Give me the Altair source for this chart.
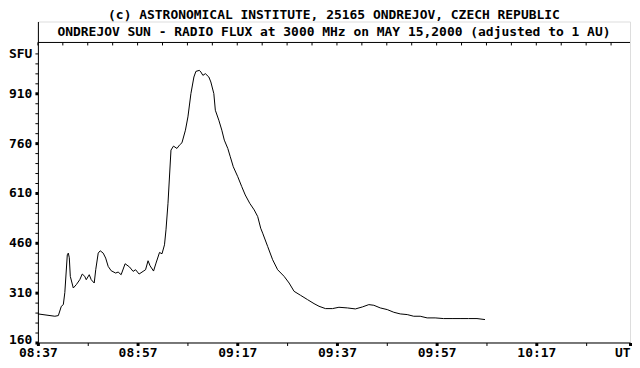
import json
import altair as alt
import pandas as pd

# --- data (minutes after 08:37 UT, flux in SFU) ---
minutes = [0.0, 3.4, 4.1, 4.7, 5.1, 5.4, 5.9, 6.1, 6.3, 6.5, 7.1, 7.7, 8.4, 8.9, 9.4, 9.7,
           10.3, 10.7, 11.3, 11.6, 12.1, 12.5, 13.1, 13.6, 14.1, 14.7, 15.6, 16.1, 16.7,
           17.5, 18.4, 19.1, 19.6, 20.3, 21.1, 21.6, 22.1, 22.5, 23.2, 23.7, 24.4, 24.9,
           25.4, 25.7, 26.1, 26.7, 27.2, 27.9, 28.4, 28.9, 29.6, 30.1, 30.7, 31.3, 31.7,
           32.4, 32.7, 33.1, 33.6, 34.3, 34.7, 35.3, 35.6, 36.3, 36.9, 37.4, 38.1, 38.6,
           39.2, 40.1, 40.9, 41.6, 42.5, 43.4, 44.1, 44.7, 45.1, 46.1, 47.1, 48.1, 49.4,
           50.4, 51.4, 52.7, 54.1, 55.4, 56.4, 57.7, 59.1, 60.4, 62.1, 63.7, 65.1, 66.4,
           67.4, 68.7, 70.1, 71.4, 72.7, 74.1, 75.4, 76.7, 78.1, 79.7, 81.4, 83.1, 84.7,
           86.4, 88.1, 89.7]
flux = [246, 239, 241, 269, 274, 310, 424, 429, 415, 359, 324, 334, 349, 366, 359, 349,
        364, 349, 339, 379, 429, 436, 429, 414, 389, 376, 369, 372, 364,
        397, 387, 374, 379, 366, 374, 379, 406, 391, 375, 399, 431, 427,
        454, 499, 579, 739, 751, 744, 754, 761, 799, 839, 909, 959, 976,
        979, 974, 964, 969, 959, 944, 909, 859, 829, 799, 769, 744, 719,
        689, 659, 629, 604, 579, 559, 539, 504, 489, 449, 409, 379, 359,
        339, 314, 302, 289, 277, 269, 262, 262, 266, 264, 261, 267, 274,
        272, 264, 259, 251, 246, 244, 239, 239, 234, 234, 232, 232, 232,
        232, 232, 229]

X_END = 118.8  # right edge of the frame (the page is a few pixels narrower than the original)
x_label_values = [0, 20, 40, 60, 80, 100, X_END]
x_labels = ["08:37", "08:57", "09:17", "09:37", "09:57", "10:17", "UT"]
x_tick_values = [0, 5, 10, 15, 20, 25, 30, 35, 40, 45, 50, 55, 60, 65, 70, 75, 80,
                 85, 90, 95, 100, 105, 110, 115, X_END]
top_tick_values = [0, 5, 10, 15, 20, 25, 30, 35, 40, 45, 50, 55, 60, 65, 70, 75, 80,
                   85, 90, 95, 100, 105, 110, 115]

y_label_values = [160, 310, 460, 610, 760, 910, 1030]
y_labels = ["160", "310", "460", "610", "760", "910", "SFU"]
y_major_values = [160, 310, 460, 610, 760, 910]
y_tick_values = [160, 190, 220, 250, 280, 310, 340, 370, 400, 430, 460, 490, 520, 550,
                 580, 610, 640, 670, 700, 730, 760, 790, 820, 850, 880, 910, 940, 970,
                 1000, 1030]

title_text = "(c) ASTRONOMICAL INSTITUTE, 25165 ONDREJOV, CZECH REPUBLIC"
subtitle_text = "ONDREJOV SUN - RADIO FLUX at 3000 MHz on MAY 15,2000 (adjusted to 1 AU)"

FONT = "DejaVu Sans Mono"
FS = 13

W = 594
H = 322
BOX = 21

df = pd.DataFrame({"m": minutes, "sfu": flux})
ticks_df = pd.DataFrame({"m": top_tick_values})
sub_df = pd.DataFrame({"t": [subtitle_text]})

xv = json.dumps(x_label_values)
xl = json.dumps(x_labels).replace('"', "'")
yv = json.dumps(y_label_values)
yl = json.dumps(y_labels).replace('"', "'")
ymaj = json.dumps(y_major_values)

x_scale = alt.Scale(domain=[0, X_END], nice=False, zero=False)
y_scale = alt.Scale(domain=[160, 160 + 3 * H], nice=False, zero=False)

x_axis = alt.Axis(
    values=x_tick_values,
    labelExpr=f"indexof({xv}, datum.value) >= 0 ? {xl}[indexof({xv}, datum.value)] : ''",
    labelFont=FONT, labelFontSize=FS, labelFontWeight="bold", labelColor="black",
    labelAlign={"condition": {"test": f"datum.value == {X_END}", "value": "right"}, "value": "center"},
    labelPadding=1, labelFlush=False, labelOverlap=False,
    tickSize=3,
    tickWidth={"condition": {"test": f"indexof({xv}, datum.value) >= 0", "value": 3}, "value": 1},
    tickColor="black", domainColor="black", domainWidth=1, grid=False, title=None,
)
y_axis = alt.Axis(
    values=y_tick_values,
    labelExpr=f"indexof({yv}, datum.value) >= 0 ? {yl}[indexof({yv}, datum.value)] : ''",
    labelFont=FONT, labelFontSize=FS, labelFontWeight="bold", labelColor="black",
    labelPadding=3, labelOverlap=False, labelFlush=False,
    labelOffset={"condition": {"test": "datum.value == 160", "value": -3}, "value": 0},
    tickSize=3,
    tickWidth={"condition": {"test": f"indexof({ymaj}, datum.value) >= 0", "value": 3}, "value": 1},
    tickColor="black", domainColor="black", domainWidth=1, grid=False, title=None,
)

line = alt.Chart(df).mark_line(color="black", strokeWidth=1, interpolate="linear").encode(
    x=alt.X("m:Q", scale=x_scale, axis=x_axis),
    y=alt.Y("sfu:Q", scale=y_scale, axis=y_axis),
)

# separator of the heading box
sep = alt.Chart(sub_df).mark_rule(color="black", strokeWidth=1).encode(
    x=alt.value(0), x2=alt.value(W), y=alt.value(BOX)
)

# small ticks hanging from the top of the plot frame
top_ticks = alt.Chart(ticks_df).mark_rule(color="black", strokeWidth=1).encode(
    x=alt.X("m:Q", scale=x_scale), y=alt.value(BOX), y2=alt.value(BOX + 3)
)

sub = alt.Chart(sub_df).mark_text(
    font=FONT, fontSize=FS, fontWeight="bold", color="black", align="center", baseline="middle"
).encode(text="t:N", x=alt.value(W / 2), y=alt.value(BOX / 2 + 0.5))

chart = alt.layer(line, sep, top_ticks, sub).properties(
    width=W, height=H, padding=0,
    title=alt.TitleParams(title_text, font=FONT, fontSize=FS, fontWeight="bold",
                          color="black", anchor="middle", offset=0),
).configure_view(stroke="black", strokeWidth=1).configure(background="white")

chart.save("out.html", embed_options={"renderer": "svg", "actions": False})
